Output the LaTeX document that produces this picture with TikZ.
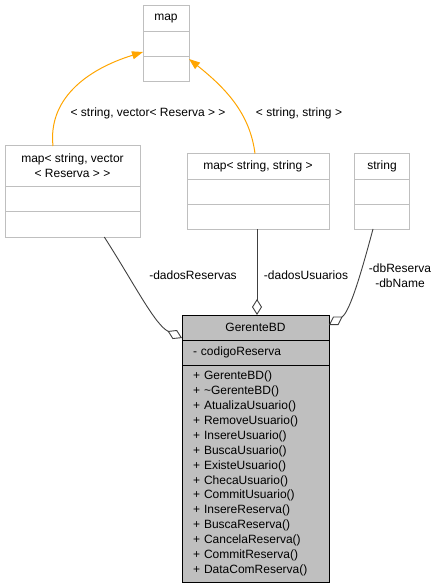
\documentclass[tikz,border=0pt]{standalone}
\usepackage{fontspec}
\setmainfont{Liberation Sans}
\usetikzlibrary{positioning,arrows.meta}
\definecolor{boxgray}{HTML}{BFBFBF}
\definecolor{linkgray}{HTML}{404040}
\definecolor{inhorange}{HTML}{FFA500}
\newcommand{\umlfont}{\fontsize{12}{14.87}\selectfont}

\begin{document}
\begin{tikzpicture}[x=1pt,y=1pt]
  \tikzstyle{cls}=[draw=boxgray, line width=1pt, fill=white, inner sep=0pt, outer sep=0pt, font=\umlfont, align=center]
  \tikzstyle{gcls}=[draw=black, line width=1pt, fill=boxgray, inner sep=0pt, outer sep=0pt, font=\umlfont, minimum width=147]
  \tikzstyle{inh}=[draw=inhorange, line width=1pt, -{Triangle[length=11pt,width=8pt]}]
  \tikzstyle{agg}=[draw=linkgray, line width=0.9pt, -{Diamond[open,length=16pt,width=10pt]}]
  \tikzstyle{lbl}=[font=\umlfont, inner sep=0pt, align=center]
  \useasboundingbox (0,0) rectangle (441,-588);

  % map
  \node[cls, minimum width=46, minimum height=26, anchor=north west] (map) at (143,-6) {map};
  \node[cls, minimum width=46, minimum height=25, below=0pt of map] (mapA) {};
  \node[cls, minimum width=46, minimum height=25, below=0pt of mapA] (mapB) {};

  % map< string, vector< Reserva > >
  \node[cls, minimum width=135, minimum height=40, anchor=north west] (mvec) at (5,-146) {map< string, vector\\< Reserva > >};
  \node[cls, minimum width=135, minimum height=25, below=0pt of mvec] (mvecA) {};
  \node[cls, minimum width=135, minimum height=26, below=0pt of mvecA] (mvecB) {};

  % map< string, string >
  \node[cls, minimum width=142, minimum height=25.5, anchor=north west] (mstr) at (187,-153.5) {map< string, string >};
  \node[cls, minimum width=142, minimum height=25, below=0pt of mstr] (mstrA) {};
  \node[cls, minimum width=142, minimum height=25, below=0pt of mstrA] (mstrB) {};

  % string
  \node[cls, minimum width=55, minimum height=25.5, anchor=north west] (str) at (354.5,-153.5) {string};
  \node[cls, minimum width=55, minimum height=25, below=0pt of str] (strA) {};
  \node[cls, minimum width=55, minimum height=25, below=0pt of strA] (strB) {};

  % GerenteBD
  \node[gcls, minimum height=25, anchor=north west] (gbd) at (182,-315) {GerenteBD};
  \node[gcls, minimum height=25, below=0pt of gbd, text width=125, inner xsep=11pt, align=left] (gbdAttr) {- codigoReserva};
  \node[gcls, minimum height=217, below=0pt of gbdAttr, text width=125, inner xsep=11pt, align=left] (gbdOps)
    {+ GerenteBD()\\
     + \textasciitilde GerenteBD()\\
     + AtualizaUsuario()\\
     + RemoveUsuario()\\
     + InsereUsuario()\\
     + BuscaUsuario()\\
     + ExisteUsuario()\\
     + ChecaUsuario()\\
     + CommitUsuario()\\
     + InsereReserva()\\
     + BuscaReserva()\\
     + CancelaReserva()\\
     + CommitReserva()\\
     + DataComReserva()};

  % inheritance
  \draw[inh] ([xshift=48pt]mvec.north west) .. controls (48,-100) and (85,-70) .. ([yshift=5pt]mapA.south west);
  \draw[inh] ([xshift=-3pt]mstr.north) .. controls (250,-115) and (228,-90) .. ([yshift=-2pt]mapB.north east);
  \node[lbl] (lblVec) at (148,-113) {< string, vector< Reserva > >};
  \node[lbl] (lblStr) at (299,-113) {< string, string >};

  % aggregation
  \draw[agg] ([xshift=99.3pt]mvecB.south west) .. controls (135,-285) and (155,-325) .. ([yshift=2pt]gbd.south west);
  \draw[agg] ([xshift=-1pt]mstrB.south) -- ([xshift=1.5pt]gbd.north);
  \draw[agg] ([xshift=-9pt]strB.south) .. controls (362,-270) and (350,-312) .. ([yshift=-10pt]gbd.north east);
  \node[lbl] (lblRes) at (193,-275) {-dadosReservas};
  \node[lbl] (lblUsr) at (306,-275) {-dadosUsuarios};
  \node[lbl] (lblDb) at (400,-275.5) {-dbReserva\\-dbName};
\end{tikzpicture}
\end{document}
